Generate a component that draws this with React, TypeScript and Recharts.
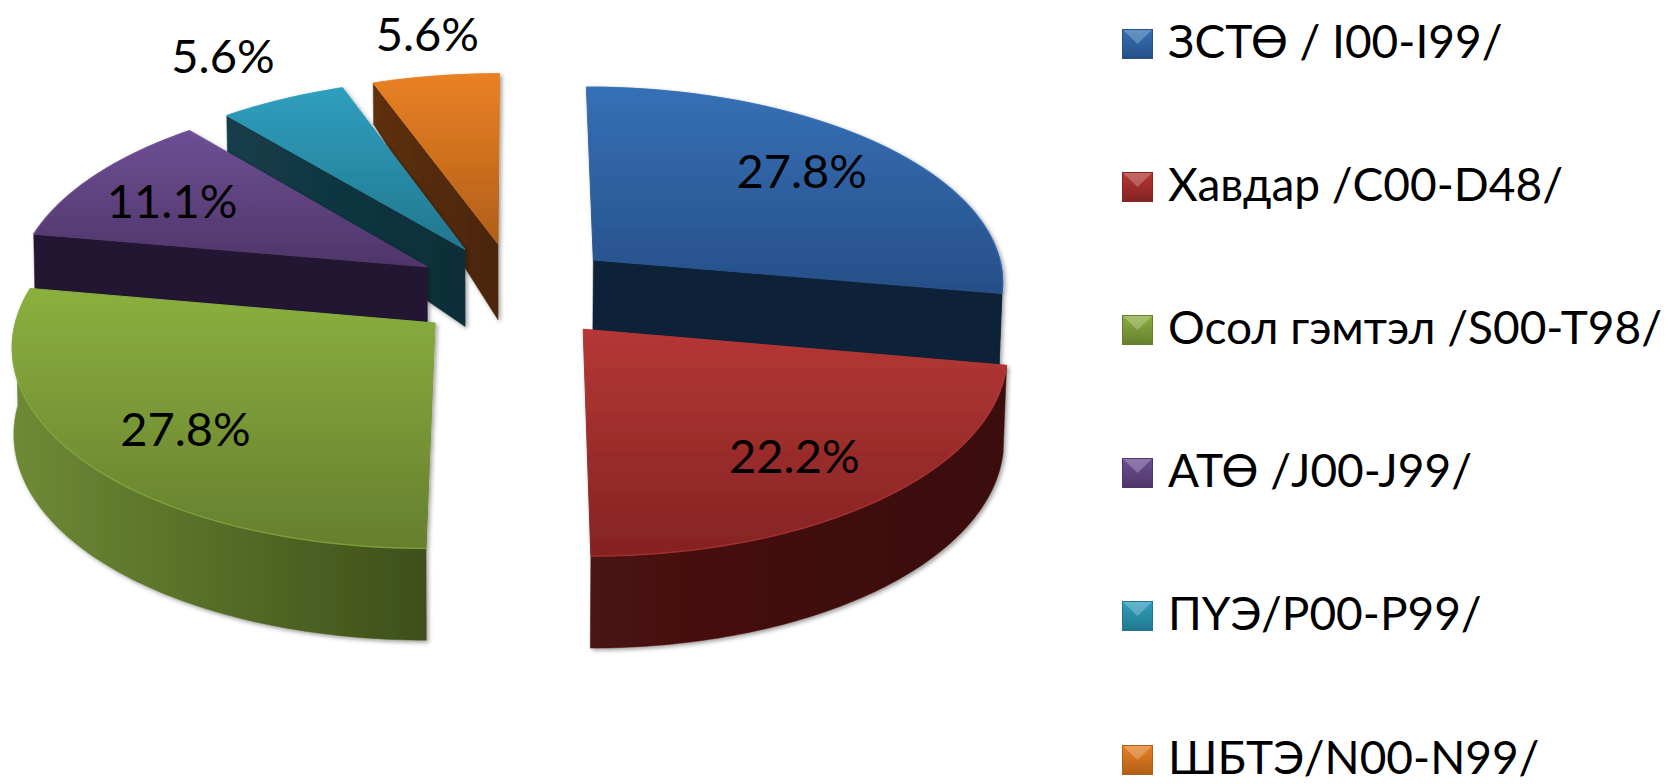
import React from "react";
import { PieChart, Pie, Legend } from "recharts";

const categories = [
  "ЗСТӨ / I00-I99/",
  "Хавдар /C00-D48/",
  "Осол гэмтэл /S00-T98/",
  "АТӨ /J00-J99/",
  "ПҮЭ/P00-P99/",
  "ШБТЭ/N00-N99/",
];
const values = [5, 4, 5, 2, 1, 1];
const faceTop = ["#3670b6", "#b53735", "#8bb03f", "#6d4f94", "#2f9fbe", "#ea8024"];
const faceBottom = ["#264f88", "#842323", "#667f2e", "#4f3569", "#22778e", "#b05f18"];
const wallLeft = ["#112037", "#4a1212", "#6e8a35", "#231831", "#133d4a", "#5e300d"];
const wallRight = ["#112037", "#3a0e0d", "#3e4f1a", "#231831", "#0e2e37", "#4a2609"];
const labelReach = [0.65, 0.78, 0.78, 0.7, 1.16, 1.06];
const labelNudgeX = [17, -18, 19, -19, -33, -5];
const labelNudgeY = [-14, -4, -2, -2, -23, -34];

const backSlices = [0, 1, 2, 3, 4, 5].filter((i) => i >= 3).reverse();
const frontSlices = [0, 1, 2];
const byIndex = (i: number) => ({ name: categories[i], value: values[i] });
const backData = [...backSlices, ...frontSlices.slice().reverse()].map(byIndex);
const frontData = [...frontSlices, ...backSlices.slice().reverse()].map(byIndex);

const TILT = 0.4746;
const PERSPECTIVE = 0.1;
const EXPLODE = 0.25;
const RAD = Math.PI / 180;
const FONT = "Lato, 'Noto Sans', sans-serif";

function project(cx: number, cy: number, R: number, x: number, y: number) {
  const s = 1 / (1 - PERSPECTIVE * y);
  return [cx + R * x * s, cy + R * TILT * y * s];
}
function lowered(cx: number, cy: number, R: number, x: number, y: number) {
  const [X, Y] = project(cx, cy, R, x, y);
  const d = y < 0 ? 0.206 + 0.09 * y : 0.206 + 0.014 * y;
  const inset = x > 0 ? 0.993 : 0.997;
  return [cx + (X - cx) * inset, Y + d * R];
}
function toPath(points: number[][], close = true) {
  return "M" + points.map((p) => `${p[0].toFixed(2)},${p[1].toFixed(2)}`).join("L") + (close ? "Z" : "");
}
function clockwise(startAngle: number, endAngle: number) {
  let a = Math.min(90 - startAngle, 90 - endAngle);
  let b = Math.max(90 - startAngle, 90 - endAngle);
  while (a < 0) {
    a += 360;
    b += 360;
  }
  return [a, b];
}
function explodeOf(mid: number) {
  return [EXPLODE * Math.sin(mid * RAD), -EXPLODE * Math.cos(mid * RAD)];
}

function Slice3D(props: any, drawn: number[]) {
  const { cx, cy, outerRadius: R, startAngle, endAngle } = props;
  const i = categories.indexOf(props.name ?? props.payload?.name);
  if (!drawn.includes(i)) return <g />;
  const [a, b] = clockwise(startAngle, endAngle);
  const [ex, ey] = explodeOf((a + b) / 2);
  const plane = (t: number) => [ex + Math.sin(t * RAD), ey - Math.cos(t * RAD)];
  const arc = (from: number, to: number) => {
    const out: number[][] = [];
    const n = Math.max(2, Math.ceil(Math.abs(to - from)));
    for (let k = 0; k <= n; k++) out.push(plane(from + ((to - from) * k) / n));
    return out;
  };
  const up = (p: number[]) => project(cx, cy, R, p[0], p[1]);
  const down = (p: number[]) => lowered(cx, cy, R, p[0], p[1]);
  const apex = [ex, ey];
  const walls: number[][][] = [];
  const lo = Math.max(a, 88);
  const hi = Math.min(b, 271);
  if (hi > lo) {
    const rim = arc(lo, hi);
    walls.push([...rim.map(up), ...rim.slice().reverse().map(down)]);
  }
  const edge = (t: number) => {
    const p = plane(t);
    walls.push([up(apex), up(p), down(p), down(apex)]);
  };
  if (Math.sin(b * RAD) > 0.01) edge(b);
  if (Math.sin(a * RAD) < -0.01) edge(a);
  const rimLine = arc(a, b).map(up);
  const face = [up(apex), ...rimLine];
  return (
    <g filter={`url(#soft-${i})`}>
      <defs>
        <filter id={`soft-${i}`} x="-10%" y="-10%" width="120%" height="120%">
          <feDropShadow dx="2" dy="2" stdDeviation="2" floodColor="#000" floodOpacity="0.38" />
        </filter>
        <linearGradient id={`face-${i}`} x1="0" y1="0" x2="0" y2="1">
          <stop offset="0" stopColor={faceTop[i]} />
          <stop offset="1" stopColor={faceBottom[i]} />
        </linearGradient>
        <linearGradient id={`wall-${i}`} x1="0" y1="0" x2="1" y2="0">
          <stop offset="0" stopColor={wallLeft[i]} />
          <stop offset="1" stopColor={wallRight[i]} />
        </linearGradient>
      </defs>
      {walls.map((w, k) => (
        <path key={k} d={toPath(w)} fill={`url(#wall-${i})`} stroke={`url(#wall-${i})`} strokeWidth={0.5} />
      ))}
      <path d={toPath(face)} fill={`url(#face-${i})`} stroke={`url(#face-${i})`} strokeWidth={1} />
      <path d={toPath(rimLine, false)} fill="none" stroke={faceTop[i]} strokeOpacity={0.6} strokeWidth={1.5} />
    </g>
  );
}

function renderLabel(props: any, drawn: number[]) {
  const { cx, cy, outerRadius: R, midAngle, percent } = props;
  const i = categories.indexOf(props.name ?? props.payload?.name);
  if (!drawn.includes(i)) return <g />;
  const mid = 90 - midAngle;
  const [ex, ey] = explodeOf(mid);
  const r = labelReach[i];
  const [X, Y] = project(cx, cy, R, ex + r * Math.sin(mid * RAD), ey - r * Math.cos(mid * RAD));
  return (
    <text
      x={X + labelNudgeX[i]}
      y={Y + labelNudgeY[i]}
      textAnchor="middle"
      dominantBaseline="central"
      fontFamily={FONT}
      fontSize={47}
      fill="#000"
    >
      {`${(percent * 100).toFixed(1)}%`}
    </text>
  );
}

function Marker({ i }: { i: number }) {
  const w = 31;
  const h = 30;
  const gid = `marker-${i}`;
  return (
    <svg width={w} height={h} style={{ display: "block", flex: "none" }}>
      <defs>
        <linearGradient id={gid} x1="0" y1="0" x2="0" y2="1">
          <stop offset="0" stopColor={faceTop[i]} />
          <stop offset="1" stopColor={faceBottom[i]} />
        </linearGradient>
      </defs>
      <rect width={w} height={h} fill={`url(#${gid})`} />
      <polygon points={`0,0 ${w},0 ${w / 2},${h / 2}`} fill="#fff" opacity={0.24} />
      <polygon points={`0,${h} ${w},${h} ${w - 3},${h - 3} 3,${h - 3}`} fill={faceBottom[i]} opacity={0.8} />
      <rect x={0.5} y={0.5} width={w - 1} height={h - 1} fill="none" stroke={faceBottom[i]} />
    </svg>
  );
}

function LegendList() {
  return (
    <div style={{ fontFamily: FONT, fontSize: 46, lineHeight: "40px", color: "#000" }}>
      {categories.map((c, i) => (
        <div key={c} style={{ display: "flex", alignItems: "center", height: 143.2, whiteSpace: "nowrap" }}>
          <Marker i={i} />
          <span style={{ marginLeft: 15, position: "relative", top: -3 }}>{c}</span>
        </div>
      ))}
    </div>
  );
}

export default function App() {
  return (
    <div style={{ position: "absolute", left: 0, top: 0, width: 1673, height: 784, background: "#fff", overflow: "hidden" }}>
      <PieChart width={1673} height={784} margin={{ top: 0, right: 0, bottom: 0, left: 0 }}>
        <Pie
          data={backData}
          dataKey="value"
          nameKey="name"
          cx={515.5}
          cy={291}
          outerRadius={413}
          startAngle={90}
          endAngle={450}
          stroke="none"
          isAnimationActive={false}
          labelLine={false}
          label={(p: any) => renderLabel(p, backSlices)}
          shape={(p: any) => Slice3D(p, backSlices)}
        />
        <Pie
          data={frontData}
          dataKey="value"
          nameKey="name"
          cx={515.5}
          cy={291}
          outerRadius={413}
          startAngle={90}
          endAngle={-270}
          stroke="none"
          isAnimationActive={false}
          labelLine={false}
          label={(p: any) => renderLabel(p, frontSlices)}
          shape={(p: any) => Slice3D(p, frontSlices)}
        />
        <Legend
          content={() => <LegendList />}
          wrapperStyle={{ position: "absolute", left: 1122, top: -28, width: 551, height: 860 }}
        />
      </PieChart>
    </div>
  );
}
